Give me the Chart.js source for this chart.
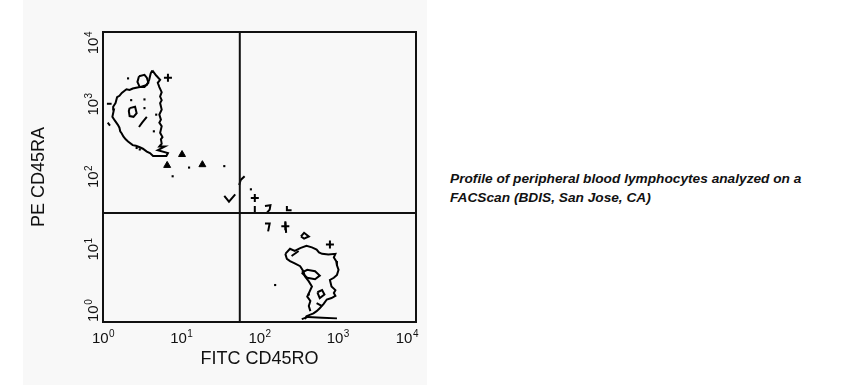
<!DOCTYPE html>
<html>
<head>
<meta charset="utf-8">
<script src="https://cdn.jsdelivr.net/npm/chart.js@4/dist/chart.umd.min.js"></script>
<style>
  html, body { margin: 0; padding: 0; background: #ffffff; }
  body { width: 847px; height: 386px; position: relative; overflow: hidden; }
  #panel { position: absolute; left: 23px; top: 0; width: 404px; height: 385px; background: #f8f8f8; }
  #wrap { position: absolute; left: 0; top: 0; width: 430px; height: 386px; }
  #caption { position: absolute; left: 450px; top: 169px; font-family: "Liberation Sans", Arial, sans-serif;
    font-weight: bold; font-style: italic; font-size: 13.7px; line-height: 19px; color: #111; white-space: nowrap; }
</style>
</head>
<body>
<div id="panel"></div>
<div id="wrap"><canvas id="c" width="430" height="386"></canvas></div>
<div id="caption">Profile of peripheral blood lymphocytes analyzed on a<br>FACScan (BDIS, San Jose, CA)</div>
<script>
// ---- axes ----
const xTitle = "FITC CD45RO";
const yTitle = "PE CD45RA";
const tickBase = "10";
const tickExponents = [0, 1, 2, 3, 4];
const axisMin = 1, axisMax = 10000;
// quadrant gate (fluorescence units)
const gateX = 56;
const gateY = 32;

// ---- contour traces, as [log10 FITC, log10 PE] ----
const ulOuter = [[0.63,3.47],[0.68,3.40],[0.73,3.34],[0.70,3.30],[0.72,3.24],[0.75,3.17],[0.73,3.11],[0.75,3.06],[0.73,3.02],[0.75,2.93],[0.72,2.86],[0.74,2.79],[0.72,2.75],[0.75,2.70],[0.73,2.61],[0.76,2.55],[0.74,2.52],[0.75,2.46],[0.72,2.42],[0.79,2.42],[0.70,2.37],[0.83,2.33],[0.81,2.29],[0.64,2.29],[0.60,2.33],[0.56,2.35],[0.51,2.39],[0.47,2.41],[0.42,2.43],[0.38,2.44],[0.32,2.49],[0.29,2.52],[0.26,2.56],[0.24,2.60],[0.22,2.63],[0.21,2.68],[0.19,2.72],[0.15,2.78],[0.12,2.83],[0.14,2.93],[0.13,2.97],[0.16,3.02],[0.18,3.10],[0.21,3.12],[0.24,3.16],[0.30,3.21],[0.34,3.20],[0.38,3.22],[0.47,3.24],[0.56,3.27],[0.59,3.34],[0.61,3.43],[0.63,3.47]];
const ulLoop1 = [[0.46,3.39],[0.53,3.41],[0.56,3.37],[0.58,3.30],[0.53,3.24],[0.47,3.24],[0.44,3.31],[0.46,3.39]];
const ulLoop2 = [[0.34,2.95],[0.41,2.97],[0.43,2.88],[0.39,2.83],[0.34,2.84],[0.33,2.91],[0.34,2.95]];
const ulStroke = [[0.46,2.69],[0.50,2.75],[0.56,2.83]];
const ulStub1 = [[0.05,3.01],[0.11,3.01]];
const ulStub2 = [[0.06,2.75],[0.09,2.71]];
const midV = [[1.55,1.74],[1.61,1.66],[1.69,1.76]];
const midGateBlob = [[1.74,1.89],[1.76,1.96],[1.81,2.01]];
const midTick = [[1.94,1.60],[1.94,1.50]];
const midQ = [[2.07,1.60],[2.14,1.61],[2.13,1.55],[2.09,1.50]];
const midL = [[2.35,1.60],[2.35,1.54],[2.41,1.54]];
const midSeven = [[2.07,1.36],[2.13,1.36],[2.11,1.25]];
const midBang = [[2.33,1.39],[2.34,1.23]];
const midDiamond = [[2.53,1.18],[2.57,1.23],[2.63,1.18],[2.57,1.15],[2.53,1.18]];
const lrOuter = [[2.33,0.94],[2.39,1.01],[2.45,0.98],[2.52,1.02],[2.60,1.05],[2.67,1.03],[2.73,1.00],[2.76,0.96],[2.80,0.94],[2.88,0.93],[2.97,0.94],[2.95,0.89],[2.98,0.84],[2.99,0.78],[3.01,0.72],[2.99,0.65],[2.95,0.61],[2.90,0.58],[2.92,0.49],[2.97,0.44],[2.95,0.40],[2.97,0.36],[2.92,0.33],[2.86,0.31],[2.82,0.25],[2.77,0.19],[2.73,0.15],[2.69,0.12],[2.60,0.08],[2.58,0.04]];
const lrLeft = [[2.65,0.15],[2.63,0.22],[2.65,0.29],[2.61,0.35],[2.64,0.42],[2.67,0.49],[2.63,0.56],[2.58,0.63],[2.56,0.70],[2.52,0.77],[2.45,0.81],[2.39,0.84],[2.35,0.87],[2.33,0.94]];
const lrBase = [[2.54,0.04],[2.62,0.07],[2.80,0.06],[2.99,0.05]];
const lrInner = [[2.54,0.68],[2.61,0.72],[2.71,0.70],[2.77,0.64],[2.71,0.59],[2.61,0.61],[2.54,0.68]];
const lrLoop = [[2.74,0.41],[2.80,0.44],[2.83,0.38],[2.77,0.33],[2.74,0.41]];
const lrStroke = [[2.41,0.91],[2.50,0.98]];
const lrStroke2 = [[2.73,0.26],[2.80,0.22]];

// isolated events
const dotEvents = [[0.32,3.36],[0.36,3.06],[0.53,3.07],[0.53,2.95],[0.65,2.63],[0.68,2.86],[0.43,2.40],[0.47,2.38],[0.89,2.01],[1.10,2.13],[1.55,2.15],[1.89,1.83],[2.20,0.51],[2.63,0.38]];
const blobEvents = [[1.01,2.31],[0.82,2.16],[1.27,2.17]];
const crossEvents = [[0.83,3.37],[1.94,1.71],[2.90,1.07],[2.33,1.32]];

const contours = [ulOuter, ulLoop1, ulLoop2, ulStroke, ulStub1, ulStub2, midV, midGateBlob, midTick, midQ, midL, midSeven, midBang, midDiamond, lrOuter, lrLeft, lrBase, lrInner, lrLoop, lrStroke, lrStroke2];

const toPts = arr => arr.map(([a, b]) => ({ x: Math.pow(10, a), y: Math.pow(10, b) }));
const INK = '#111111';
const FONT = '"Liberation Sans", Arial, sans-serif';

const datasets = [];
datasets.push({ data: [{ x: gateX, y: axisMin }, { x: gateX, y: axisMax }], showLine: true, borderColor: INK, borderWidth: 2, pointRadius: 0 });
datasets.push({ data: [{ x: axisMin, y: gateY }, { x: axisMax, y: gateY }], showLine: true, borderColor: INK, borderWidth: 2, pointRadius: 0 });
contours.forEach(c => datasets.push({ data: toPts(c), showLine: true, borderColor: '#000', borderWidth: 2, pointRadius: 0, tension: 0 }));
datasets.push({ data: toPts(dotEvents), showLine: false, pointStyle: 'rect', pointRadius: 1.5, backgroundColor: '#000', borderWidth: 0 });
datasets.push({ data: toPts(blobEvents), showLine: false, pointStyle: 'triangle', pointRadius: 4, backgroundColor: '#000', borderColor: '#000', borderWidth: 1 });
datasets.push({ data: toPts(crossEvents), showLine: false, pointStyle: 'cross', pointRadius: 4, borderColor: '#000', borderWidth: 2 });

const frameAndTicks = {
  id: 'frameAndTicks',
  afterDraw(chart) {
    const { ctx, chartArea: a, scales } = chart;
    ctx.save();
    ctx.strokeStyle = INK;
    ctx.lineWidth = 2;
    ctx.strokeRect(a.left, a.top, a.right - a.left, a.bottom - a.top);
    ctx.fillStyle = INK;
    ctx.textBaseline = 'alphabetic';
    const baseFont = '15px ' + FONT, supFont = '10px ' + FONT;
    const measure = e => {
      ctx.font = baseFont; const w1 = ctx.measureText(tickBase).width;
      ctx.font = supFont; const w2 = ctx.measureText(String(e)).width;
      return [w1, w2];
    };
    const drawLabel = (x0, y0, e) => {
      const [w1] = measure(e);
      ctx.font = baseFont; ctx.textAlign = 'left'; ctx.fillText(tickBase, x0, y0);
      ctx.font = supFont; ctx.fillText(String(e), x0 + w1 + 0.5, y0 - 6);
    };
    // x ticks
    tickExponents.forEach((e, i) => {
      const px = scales.x.getPixelForValue(Math.pow(10, e));
      const [w1, w2] = measure(e);
      const w = w1 + w2;
      let start = px - w / 2;
      if (i === tickExponents.length - 1) start = px + 2 - w;
      drawLabel(start, a.bottom + 21, e);
    });
    // y ticks (rotated)
    tickExponents.forEach((e, i) => {
      const py = scales.y.getPixelForValue(Math.pow(10, e));
      const [w1, w2] = measure(e);
      const w = w1 + w2;
      let start = -w / 2;
      if (i === 0) start = 0;
      if (i === tickExponents.length - 1) start = -w;
      ctx.save();
      ctx.translate(a.left - 5, py);
      ctx.rotate(-Math.PI / 2);
      drawLabel(start, 0, e);
      ctx.restore();
    });
    ctx.restore();
  }
};

new Chart(document.getElementById('c'), {
  type: 'scatter',
  data: { datasets },
  options: {
    responsive: false,
    animation: false,
    events: [],
    layout: { padding: { top: 32, right: 14, left: 0, bottom: 0 } },
    plugins: { legend: { display: false }, tooltip: { enabled: false } },
    scales: {
      x: {
        type: 'logarithmic', min: axisMin, max: axisMax,
        grid: { display: false }, border: { display: false },
        ticks: { display: false },
        title: { display: true, text: xTitle, color: INK, font: { family: FONT, size: 18 }, padding: { top: 0, bottom: 16 } },
        afterFit(s) { s.height = 64; }
      },
      y: {
        type: 'logarithmic', min: axisMin, max: axisMax,
        grid: { display: false }, border: { display: false },
        ticks: { display: false },
        title: { display: true, text: yTitle, color: INK, font: { family: FONT, size: 18 }, padding: { top: 28, bottom: 0 } },
        afterFit(s) { s.width = 103; }
      }
    }
  },
  plugins: [frameAndTicks]
});
</script>
</body>
</html>
